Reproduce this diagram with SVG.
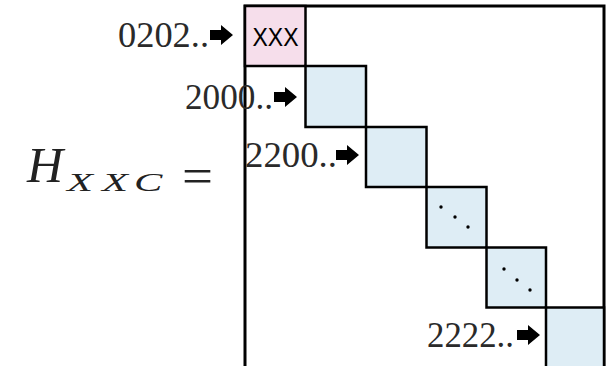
<svg xmlns="http://www.w3.org/2000/svg" xmlns:xlink="http://www.w3.org/1999/xlink" width="606" height="366" viewBox="0 0 606 366">
<defs>
<style>
.lbl{font-family:'Liberation Serif','DejaVu Serif',serif;font-size:35px;fill:#2a2a2a}
.math{font-family:'Liberation Serif','DejaVu Serif',serif;font-style:italic;fill:#222}
.blk{stroke:#000;stroke-width:2.5}
.pink{fill:#f6deeb}
.blue{fill:#deedf5}
.dot{fill:#000}
</style>
<path id="arr" d="M-23,-5 H-12 V-10 L0,0 L-12,10 V5 H-23 Z" fill="#000"/>
</defs>
<rect width="606" height="366" fill="#fff"/>
<g id="matrix">
<path d="M245,370 V6 H604 V370" fill="none" stroke="#000" stroke-width="3"/>
</g>
<g id="block1">
<rect class="blk pink" x="245" y="6" width="60.5" height="60"/>
<text x="275.5" y="46" text-anchor="middle" font-family="'Liberation Sans', Arial, sans-serif" font-size="26" textLength="46" lengthAdjust="spacingAndGlyphs">XXX</text>
</g>
<g id="block2"><rect class="blk blue" x="305.5" y="66" width="60.5" height="61"/></g>
<g id="block3"><rect class="blk blue" x="366" y="127" width="60.5" height="60"/></g>
<g id="block4"><rect class="blk blue" x="426.5" y="187" width="60" height="60.5"/>
<circle class="dot" cx="441" cy="207" r="1.7"/><circle class="dot" cx="455" cy="217" r="1.7"/><circle class="dot" cx="468" cy="227" r="1.7"/></g>
<g id="block5"><rect class="blk blue" x="486.5" y="247.5" width="59.5" height="60"/>
<circle class="dot" cx="504" cy="269" r="1.7"/><circle class="dot" cx="517" cy="280" r="1.7"/><circle class="dot" cx="530" cy="290" r="1.7"/></g>
<g id="block6"><rect class="blk blue" x="546" y="307.5" width="58" height="70"/></g>
<g id="label-0202"><text class="lbl" x="118" y="47" textLength="91" lengthAdjust="spacingAndGlyphs">0202..</text></g>
<g id="label-2000"><text class="lbl" x="185" y="109" textLength="88" lengthAdjust="spacingAndGlyphs">2000..</text></g>
<g id="label-2200"><text class="lbl" x="245" y="167" textLength="92" lengthAdjust="spacingAndGlyphs">2200..</text></g>
<g id="label-2222"><text class="lbl" x="427" y="347" textLength="87" lengthAdjust="spacingAndGlyphs">2222..</text></g>
<g id="equation">
<text class="math" x="27" y="182" font-size="50">H</text>
<text class="math" transform="translate(67,191) scale(1.7,1)" x="0 20.6 39.4" y="0" font-size="25">XXC</text>
<text x="182" y="193" font-family="'Liberation Serif', serif" font-size="50" fill="#222" textLength="31" lengthAdjust="spacingAndGlyphs">=</text>
</g>
<g id="connectors">
<use xlink:href="#arr" x="233" y="35"/>
<use xlink:href="#arr" x="297" y="97"/>
<use xlink:href="#arr" x="359" y="155"/>
<use xlink:href="#arr" x="540" y="335"/>
</g>
</svg>
